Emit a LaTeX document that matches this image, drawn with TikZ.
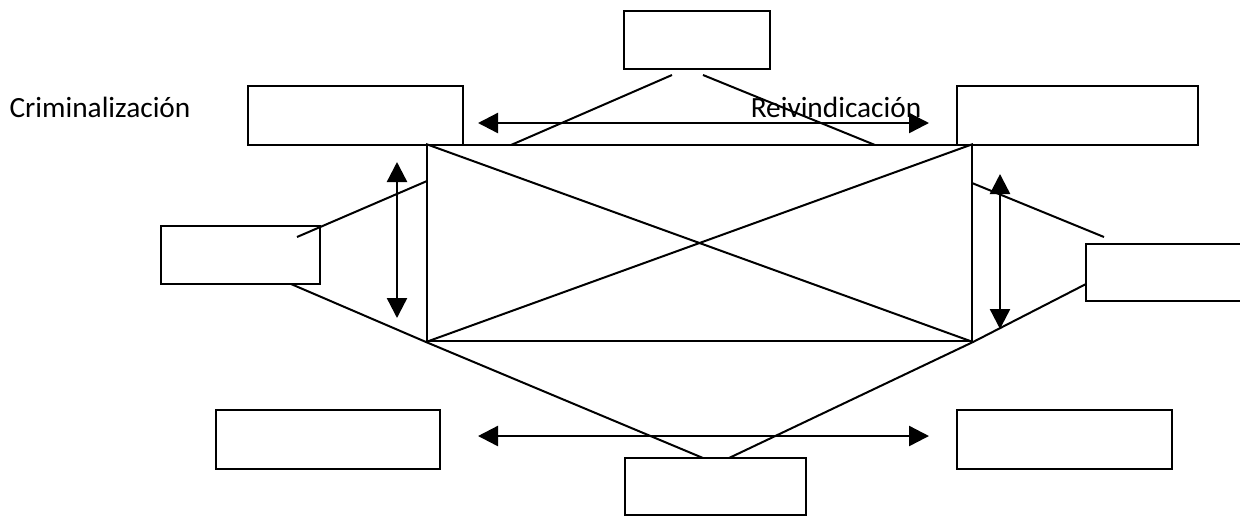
\documentclass[tikz,border=0pt]{standalone}
\usepackage{fontspec}
\setmainfont{Carlito}
\usetikzlibrary{arrows.meta,fit}
\begin{document}
\begin{tikzpicture}[x=0.375pt,y=-0.375pt,
  line width=0.75pt,
  box/.style={draw, inner sep=0pt, rectangle},
  link/.style={line width=0.75pt},
  both/.style={line width=0.9pt, {Triangle[length=7.5pt,width=7.5pt]}-{Triangle[length=7.5pt,width=7.5pt]}},
  lbl/.style={inner sep=0pt, font=\fontsize{11pt}{13pt}\selectfont}
]
\useasboundingbox (0,0) rectangle (1240,516);
\clip (0,0) rectangle (1240,516);

% central square with its two diagonals
\node[box, fit={(427,145) (972,341)}] (core) {};
\draw[link] (core.north west) -- (core.south east);
\draw[link] (core.north east) -- (core.south west);

% surrounding boxes
\node[box, fit={(624,11) (770,69)}]    (top) {};
\node[box, fit={(248,86) (463,145)}]   (crim) {};
\node[box, fit={(957,86) (1198,145)}]  (reiv) {};
\node[box, fit={(161,226) (320,284)}]  (west) {};
\node[box, fit={(1086,244) (1262,301)}] (east) {};
\node[box, fit={(216,410) (440,469)}]  (swbox) {};
\node[box, fit={(957,410) (1172,469)}] (sebox) {};
\node[box, fit={(625,458) (806,515)}]  (bottom) {};

% labels
\node[lbl] (lcrim) at (100,107) {Criminalización};
\node[lbl] (lreiv) at (836,107) {Reivindicación};

% connecting strokes
\coordinate (t1) at (672,75);  \coordinate (t1e) at (511,145);
\coordinate (t2) at (703,75);  \coordinate (t2e) at (875,145);
\draw[link] (t1) -- (t1e);
\draw[link] (t2) -- (t2e);

\coordinate (w1) at (297,237); \coordinate (w1e) at (427,181);
\draw[link] (w1) -- (w1e);
\coordinate (w2) at (291,284); \coordinate (b1) at (703,458);
\draw[link] (w2) -- (core.south west) -- (b1);

\coordinate (e1) at (972,183); \coordinate (e1e) at (1104,237);
\draw[link] (e1) -- (e1e);
\coordinate (e2) at (1086,284); \coordinate (b2) at (729,458);
\draw[link] (e2) -- (core.south east) -- (b2);

% double-headed arrows
\coordinate (ha1) at (478,123); \coordinate (ha2) at (929,123);
\draw[both] (ha1) -- (ha2);
\coordinate (hb1) at (478,436); \coordinate (hb2) at (929,436);
\draw[both] (hb1) -- (hb2);
\coordinate (va1) at (397,162); \coordinate (va2) at (397,318);
\draw[both] (va1) -- (va2);
\coordinate (vb1) at (1000,174); \coordinate (vb2) at (1000,329);
\draw[both] (vb1) -- (vb2);
\end{tikzpicture}
\end{document}
